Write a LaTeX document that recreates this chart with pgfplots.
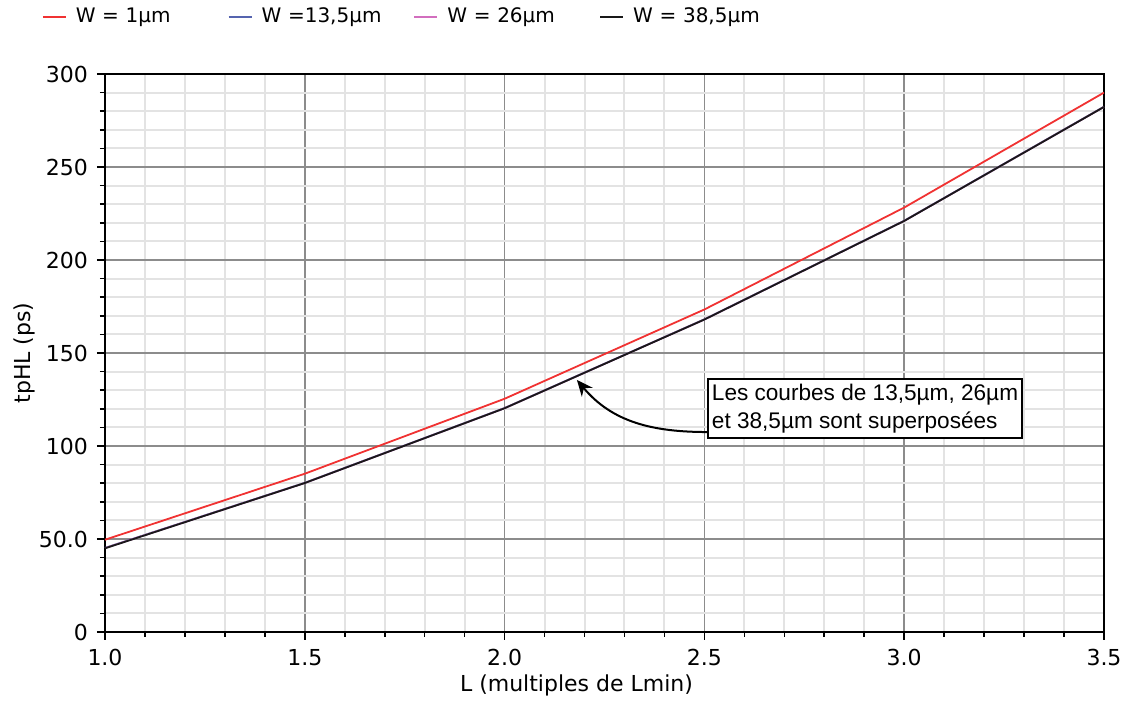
\documentclass[border=0pt]{standalone}
\usepackage{fontspec}
\setmainfont{DejaVu Sans}
\newfontfamily\arialfont{Liberation Sans}
\usepackage{pgfplots}
\pgfplotsset{compat=1.18}
\usetikzlibrary{arrows.meta}

\definecolor{cRed}{RGB}{240,50,50}
\definecolor{cBlue}{RGB}{85,100,175}
\definecolor{cMag}{RGB}{210,110,190}
\definecolor{cBlack}{RGB}{25,25,25}

\begin{document}
\begin{tikzpicture}
\begin{axis}[
  width=499.5pt, height=279pt, scale only axis,
  xmin=1, xmax=3.5, ymin=0, ymax=300,
  xtick={1,1.5,...,3.5}, xticklabels={1.0,1.5,2.0,2.5,3.0,3.5},
  ytick={0,50,...,300}, yticklabels={0,50.0,100,150,200,250,300},
  minor x tick num=4, minor y tick num=4,
  grid=both,
  major grid style={draw=black!45, line width=0.8pt},
  minor grid style={draw=black!11, line width=1pt},
  tick pos=left, tick align=outside,
  major tick length=4pt, minor tick length=2.5pt,
  every tick/.style={black, line width=0.8pt},
  axis line style={black, line width=1pt},
  ticklabel style={font=\fontsize{11}{13}\selectfont},
  xticklabel style={yshift=-1pt},
  yticklabel style={xshift=-1pt},
  xlabel={L (multiples de Lmin)}, ylabel={tpHL (ps)},
  label style={font=\fontsize{11}{13}\selectfont},
  xlabel style={at={(axis description cs:0.472,0)}, anchor=north, yshift=-18pt},
  ylabel style={yshift=-5pt},
  legend columns=4,
  legend cell align=left,
  legend image code/.code={\draw[#1, line width=0.9pt] (0pt,0pt) -- (11.5pt,0pt);},
  legend style={draw=none, fill=none, inner sep=0pt, outer sep=0pt,
    at={(rel axis cs:0,1)}, anchor=west, xshift=-31.5pt, yshift=28.5pt,
    font=\fontsize{10}{12}\selectfont,
    nodes={inner sep=0pt},
    /tikz/every odd column/.append style={column sep=4.5pt},
    /tikz/every even column/.append style={column sep=0pt},
    nodes={text width=76pt, align=left}},
]
\addplot[cRed, line width=0.9pt] coordinates {
  (1.0,49.6) (1.5,85.1) (2.0,125.4) (2.5,173.4) (3.0,228.2) (3.5,290.0)};
\addlegendentry{W = 1µm}
\addplot[cBlue, line width=0.9pt] coordinates {
  (1.0,45.2) (1.5,80.2) (2.0,120.4) (2.5,168.1) (3.0,221.1) (3.5,282.4)};
\addlegendentry{W =13,5µm}
\addplot[cMag, line width=0.9pt] coordinates {
  (1.0,45.1) (1.5,80.1) (2.0,120.3) (2.5,168.0) (3.0,221.0) (3.5,282.3)};
\addlegendentry{W = 26µm}
\addplot[cBlack, line width=0.9pt] coordinates {
  (1.0,45.0) (1.5,80.1) (2.0,120.3) (2.5,168.0) (3.0,221.0) (3.5,282.3)};
\addlegendentry{W = 38,5µm}

% callout pointing at the overlapping curves
\draw[-{Stealth[length=8pt,width=7pt]}, line width=1pt, black]
  (axis cs:2.509,107.5) to[out=180,in=-50] (axis cs:2.181,135.5);
\node[draw=black, line width=0.8pt, fill=white, inner xsep=2pt, inner ysep=2.5pt, align=left,
      font=\arialfont\fontsize{11.3}{14}\selectfont]
  at (axis cs:2.902,120.2)
  {Les courbes de 13,5µm, 26µm\\et 38,5µm sont superposées};
\coordinate (O) at (rel axis cs:0,0);
\end{axis}
% fixed page frame around the axis
\pgfresetboundingbox
\path ([xshift=-52.5pt,yshift=-34.5pt]O) rectangle ([xshift=510pt,yshift=316pt]O);
\end{tikzpicture}
\end{document}
